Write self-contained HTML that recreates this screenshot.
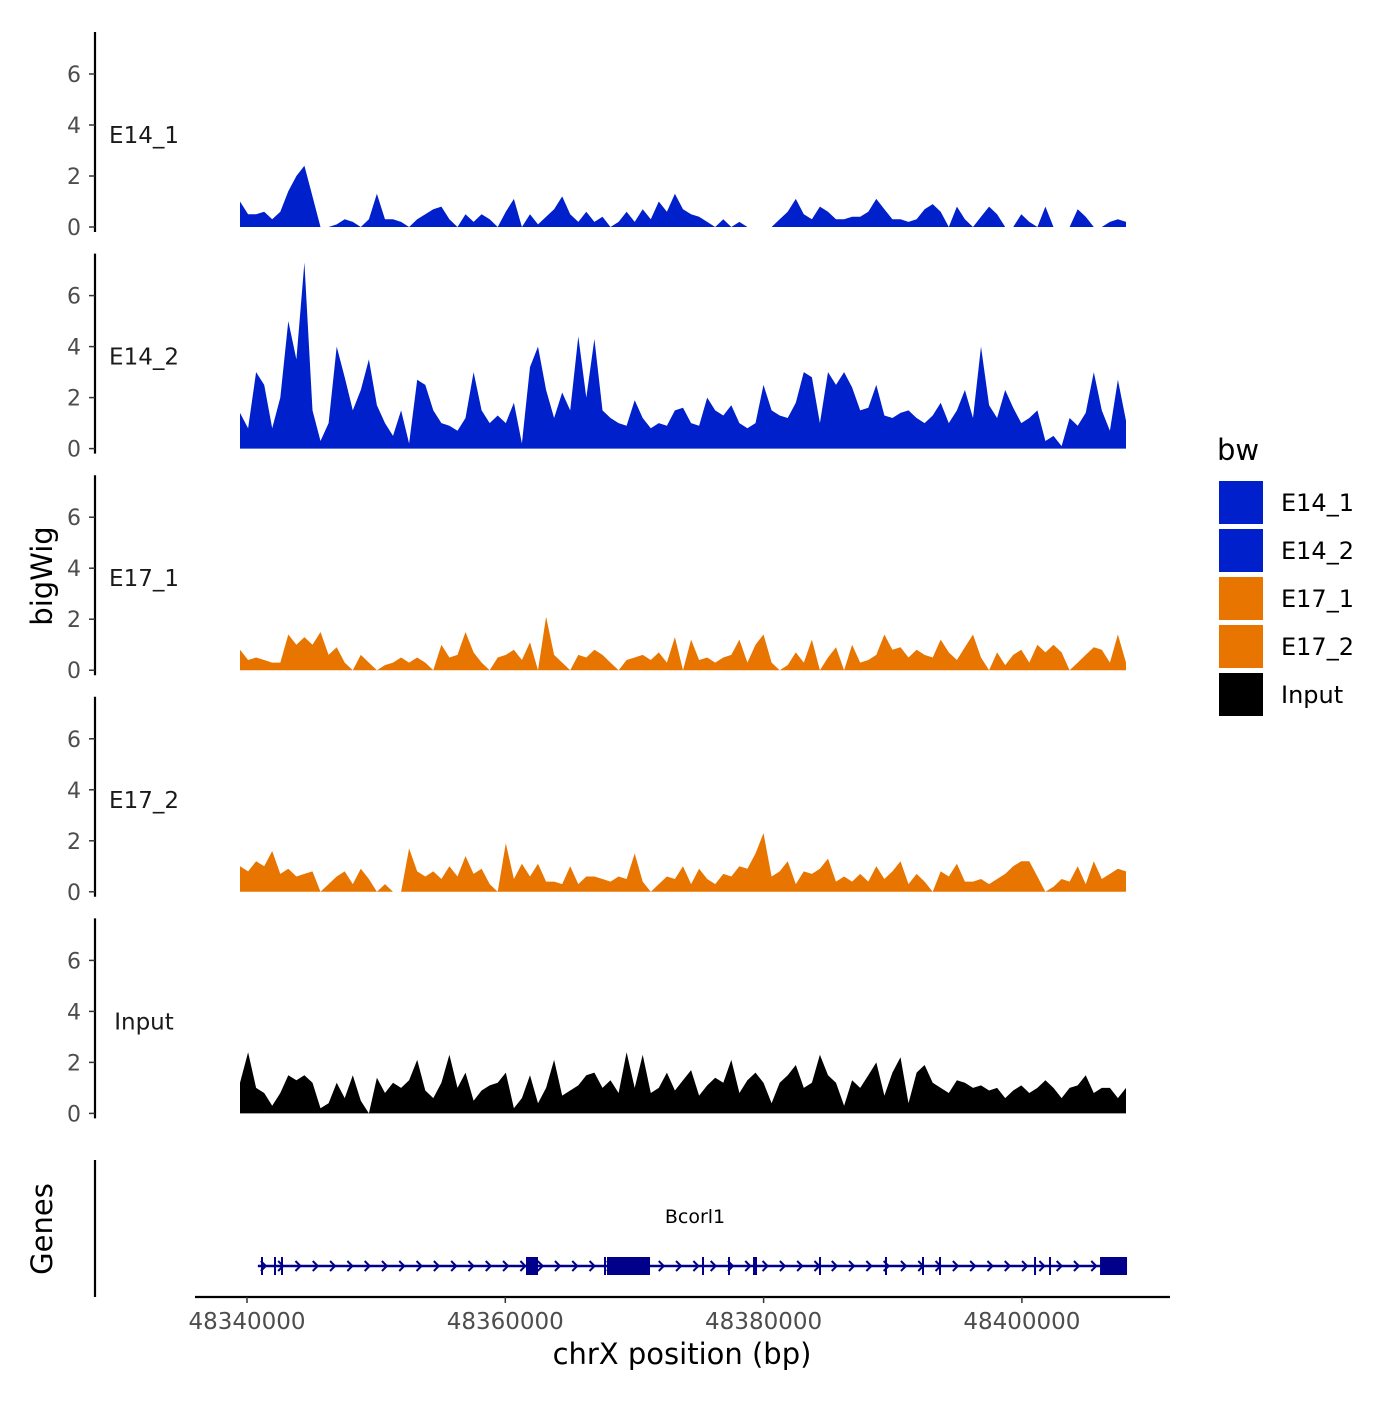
<!DOCTYPE html>
<html><head><meta charset="utf-8"><style>
html,body{margin:0;padding:0;background:#fff;}
svg text{font-family:"DejaVu Sans","Liberation Sans",sans-serif;}
</style></head><body>
<svg id="chart" width="1400" height="1400" viewBox="0 0 1400 1400" xmlns="http://www.w3.org/2000/svg">
<g id="tracks"></g>
<g id="genes"></g>
<text x="52" y="576" font-size="29" text-anchor="middle" transform="rotate(-90 52 576)">bigWig</text>
<text x="52" y="1229" font-size="29" text-anchor="middle" transform="rotate(-90 52 1229)">Genes</text>
<text x="682" y="1364" font-size="29" text-anchor="middle">chrX position (bp)</text>
<g>
<text x="1217" y="460" font-size="29">bw</text>
<rect x="1219" y="481" width="44" height="43" fill="#0020cc"/>
<text x="1281" y="511" font-size="24">E14_1</text>
<rect x="1219" y="529" width="44" height="43" fill="#0020cc"/>
<text x="1281" y="559" font-size="24">E14_2</text>
<rect x="1219" y="577" width="44" height="43" fill="#e87500"/>
<text x="1281" y="607" font-size="24">E17_1</text>
<rect x="1219" y="625" width="44" height="43" fill="#e87500"/>
<text x="1281" y="655" font-size="24">E17_2</text>
<rect x="1219" y="673" width="44" height="43" fill="#000"/>
<text x="1281" y="703" font-size="24">Input</text>
</g>
</svg>
<script>
const trackNames = ["E14_1","E14_2","E17_1","E17_2","Input"];
const trackColors = ["#0020cc","#0020cc","#e87500","#e87500","#000000"];
const yTicks = [0,2,4,6];
const xTicks = [48340000,48360000,48380000,48400000];
const regionStart = 48339458;
const regionEnd = 48408060;
const e14_1 = [1.0,0.5,0.5,0.6,0.3,0.6,1.4,2.0,2.4,1.2,0,0,0.1,0.3,0.2,0,0.3,1.3,0.3,0.3,0.2,0,0.3,0.5,0.7,0.8,0.3,0,0.5,0.2,0.5,0.3,0,0.6,1.1,0,0.5,0.1,0.4,0.7,1.2,0.5,0.2,0.6,0.2,0.4,0,0.2,0.6,0.2,0.7,0.3,1.0,0.6,1.3,0.7,0.5,0.4,0.2,0,0.3,0,0.2,0,0,0,0,0.3,0.6,1.1,0.5,0.3,0.8,0.6,0.3,0.3,0.4,0.4,0.6,1.1,0.7,0.3,0.3,0.2,0.3,0.7,0.9,0.6,0,0.8,0.3,0,0.4,0.8,0.5,0,0,0.5,0.2,0,0.8,0,0,0,0.7,0.4,0,0,0.2,0.3,0.2];
const e14_2 = [1.4,0.8,3.0,2.5,0.8,2.0,5.0,3.5,7.3,1.5,0.3,1.0,4.0,2.8,1.5,2.3,3.5,1.7,1.0,0.5,1.5,0.2,2.7,2.5,1.5,1.0,0.9,0.7,1.2,3.0,1.5,1.0,1.3,1.0,1.8,0.2,3.2,4.0,2.3,1.2,2.2,1.5,4.4,2.0,4.3,1.5,1.2,1.0,0.9,1.9,1.2,0.8,1.0,0.9,1.5,1.6,1.0,0.9,2.0,1.5,1.3,1.7,1.0,0.8,1.0,2.5,1.5,1.3,1.2,1.8,3.0,2.8,1.0,3.0,2.5,3.0,2.4,1.5,1.6,2.5,1.3,1.2,1.4,1.5,1.2,1.0,1.3,1.8,1.0,1.5,2.3,1.2,4.0,1.7,1.2,2.3,1.6,1.0,1.2,1.5,0.3,0.5,0.1,1.2,0.9,1.4,3.0,1.5,0.7,2.7,1.1];
const e17_1 = [0.8,0.4,0.5,0.4,0.3,0.3,1.4,1.0,1.3,1.0,1.5,0.6,0.9,0.3,0,0.6,0.3,0,0.2,0.3,0.5,0.3,0.5,0.3,0,1.0,0.5,0.6,1.5,0.7,0.3,0,0.5,0.6,0.8,0.4,1.1,0,2.1,0.6,0.3,0,0.6,0.5,0.8,0.6,0.3,0,0.4,0.5,0.6,0.4,0.7,0.3,1.3,0,1.2,0.4,0.5,0.3,0.5,0.6,1.2,0.3,1.0,1.4,0.3,0,0.2,0.7,0.3,1.2,0,0.5,0.9,0,1.0,0.3,0.4,0.6,1.4,0.8,0.9,0.5,0.8,0.6,0.5,1.2,0.7,0.4,0.9,1.4,0.5,0,0.7,0.2,0.6,0.8,0.3,1.0,0.7,1.0,0.7,0,0.3,0.6,0.9,0.8,0.3,1.4,0.3];
const e17_2 = [1.0,0.8,1.2,1.0,1.6,0.7,0.9,0.6,0.7,0.8,0,0.3,0.6,0.8,0.3,0.9,0.5,0,0.3,0,0,1.7,0.8,0.6,0.8,0.5,1.0,0.6,1.4,0.7,0.9,0.3,0,1.9,0.5,1.1,0.6,1.1,0.4,0.4,0.3,1.0,0.3,0.6,0.6,0.5,0.4,0.6,0.5,1.5,0.4,0,0.3,0.6,0.5,1.0,0.3,0.9,0.5,0.3,0.7,0.6,1.0,0.9,1.5,2.3,0.6,0.8,1.2,0.3,0.8,0.7,0.9,1.3,0.4,0.6,0.4,0.7,0.4,1.0,0.5,0.8,1.2,0.3,0.7,0.4,0,0.8,0.6,1.1,0.4,0.4,0.5,0.3,0.5,0.7,1.0,1.2,1.2,0.6,0,0.2,0.5,0.4,1.0,0.3,1.2,0.5,0.7,0.9,0.8];
const inputVals = [1.2,2.4,1.0,0.8,0.3,0.8,1.5,1.3,1.5,1.2,0.2,0.4,1.2,0.6,1.5,0.5,0,1.4,0.8,1.2,1.0,1.3,2.1,0.9,0.6,1.2,2.3,1.0,1.6,0.5,0.9,1.1,1.2,1.6,0.2,0.6,1.5,0.4,1.0,2.1,0.7,0.9,1.1,1.5,1.6,1.0,1.3,0.8,2.4,1.0,2.3,0.8,1.0,1.6,0.9,1.3,1.7,0.7,1.1,1.4,1.2,2.1,0.8,1.3,1.6,1.2,0.4,1.2,1.5,1.9,1.0,1.2,2.3,1.5,1.2,0.3,1.3,1.0,1.5,2.0,0.7,1.6,2.2,0.4,1.6,1.9,1.2,1.0,0.8,1.3,1.2,1.0,1.1,0.9,1.0,0.6,0.9,1.1,0.8,1.0,1.3,1.0,0.6,1.0,1.1,1.5,0.8,1.0,1.0,0.6,1.0];
const geneStart = 48340840;
const geneEnd = 48408140;
const exonStarts = [48341084,48342091,48342633,48361603,48367642,48367875,48375231,48377244,48379180,48384290,48389400,48392265,48393582,48400939,48402100,48406049];
const exonEnds   = [48341084,48342091,48342633,48362532,48367642,48371205,48375231,48377244,48379490,48384290,48389400,48392265,48393582,48400939,48402100,48408140];

const NS="http://www.w3.org/2000/svg";
function xScale(bp){return 247 + (bp-48340000)/20000*258.3;}
function mk(tag,attrs,parent){const e=document.createElementNS(NS,tag);for(const k in attrs)e.setAttribute(k,attrs[k]);parent.appendChild(e);return e;}
const series=[e14_1,e14_2,e17_1,e17_2,inputVals];
const tracksG=document.getElementById('tracks');
for(let t=0;t<5;t++){
  const base=227+t*221.6;
  const yS=v=>base - v*25.5;
  const g=mk('g',{},tracksG);
  
  
  const ax=mk('line',{x1:95,x2:95,y1:base-195,y2:base+5,stroke:'#000','stroke-width':2.2},g);
  
  
  yTicks.forEach(v=>{
    const tk=mk('line',{x1:89,x2:95,y1:yS(v),y2:yS(v),stroke:'#333','stroke-width':1.5},g);
    
    
    const tl=mk('text',{x:81,y:yS(v)+8,'font-size':22,fill:'#4d4d4d','text-anchor':'end'},g);
    tl.textContent=v;
    
    
  });
  const lbl=mk('text',{x:144,y:base-84,'font-size':23,'text-anchor':'middle',fill:'#1a1a1a'},g);
  lbl.textContent=trackNames[t];
  
  
  const vals=series[t];const n=vals.length;const step=(regionEnd-regionStart)/(n-1);
  let d='M'+xScale(regionStart)+','+base;
  vals.forEach((v,i)=>{d+=' L'+xScale(regionStart+i*step).toFixed(1)+','+yS(v).toFixed(1);});
  d+=' L'+xScale(regionEnd)+','+base+' Z';
  const p=mk('path',{d:d,fill:trackColors[t]},g);
  
  
}
const gg=document.getElementById('genes');
const gax=mk('line',{x1:95,x2:95,y1:1160,y2:1297,stroke:'#000','stroke-width':2.2},gg);


const xax=mk('line',{x1:195,x2:1170,y1:1297,y2:1297,stroke:'#000','stroke-width':2.2},gg);


xTicks.forEach(v=>{
  const tk=mk('line',{x1:xScale(v),x2:xScale(v),y1:1297,y2:1303,stroke:'#333','stroke-width':1.5},gg);
  
  
  const tl=mk('text',{x:xScale(v),y:1329,'font-size':23,fill:'#4d4d4d','text-anchor':'middle'},gg);
  tl.textContent=v;
  
  
});
const gy=1266;
const gl=mk('line',{x1:xScale(geneStart),x2:xScale(geneEnd),y1:gy,y2:gy,stroke:'#00008b','stroke-width':2.5},gg);


for(let x=xScale(geneStart)+6;x<xScale(geneEnd)-4;x+=17.3){
  const a=mk('path',{d:`M${x-3},${gy-5} L${x+2},${gy} L${x-3},${gy+5}`,fill:'none',stroke:'#00008b','stroke-width':2},gg);
  
  
}
for(let i=0;i<exonStarts.length;i++){
  const x1=xScale(exonStarts[i]);let w=xScale(exonEnds[i])-x1;if(w<2)w=2;
  const r=mk('rect',{x:x1,y:gy-9,width:w,height:18,fill:'#00008b'},gg);
  
  
}
const gn=mk('text',{x:695,y:1223,'font-size':19,'text-anchor':'middle'},gg);
gn.textContent='Bcorl1';


</script>
</body></html>
